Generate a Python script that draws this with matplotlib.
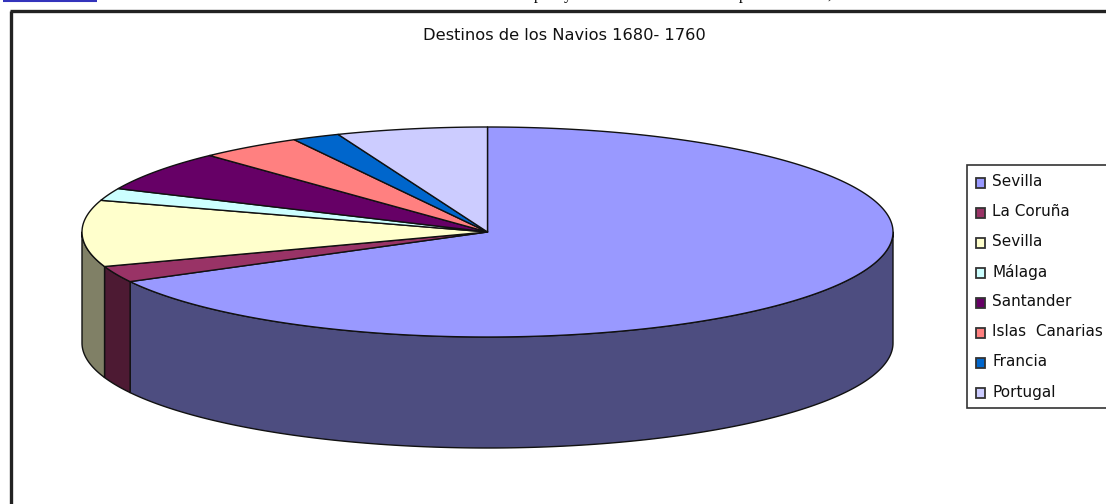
#!/usr/bin/env python3
import matplotlib
matplotlib.use("Agg")
import matplotlib.pyplot as plt
from matplotlib.patches import Polygon, Rectangle
import numpy as np

W, H = 1106, 504

labels = ["Sevilla", "La Coruña", "Sevilla", "Málaga", "Santander",
          "Islas  Canarias", "Francia", "Portugal"]
values = [67.1, 2.5, 10.2, 1.9, 6.2, 4.1, 1.9, 6.0]
colors = ["#9999FF", "#993366", "#FFFFCC", "#CCFFFF", "#660066",
          "#FF8080", "#0066CC", "#CCCCFF"]
title = "Destinos de los Navios 1680- 1760"

# bits of the page text above the chart, only the descenders are left in the crop
cut_glyphs = ["p", "y", "p", ","]
cut_glyph_x = [538, 568, 743, 829]

# pie geometry, in pixels of the picture
cx, cy = 487.5, 232
rx, ry = 405.5, 105
depth = 111


def rim(a0, a1):
    # angles clockwise from 12 o'clock, degrees
    n = max(2, int(abs(a1 - a0)) * 2 + 2)
    t = np.radians(np.linspace(a0, a1, n))
    return np.column_stack([cx + rx * np.sin(t), cy - ry * np.cos(t)])


def darker(c):
    rgb = np.array(matplotlib.colors.to_rgb(c))
    return tuple(rgb * 0.5)


plt.rcParams["font.family"] = ["DejaVu Sans"]
fig = plt.figure(figsize=(W / 100, H / 100), dpi=100)
ax = fig.add_axes([0, 0, 1, 1])
ax.set_xlim(0, W)
ax.set_ylim(H, 0)
ax.axis("off")

# chart frame, runs off the right and bottom of the crop
ax.plot([10.8, 10.8], [H + 5, 11.3], color="#222222", lw=2.4, solid_capstyle="butt")
ax.plot([9.6, W + 5], [11.3, 11.3], color="#222222", lw=2.4, solid_capstyle="butt")

# link underline left over at the top of the page
ax.plot([3, 97], [0.5, 0.5], color="#3333BB", lw=1.5, solid_capstyle="butt")
for g, x in zip(cut_glyphs, cut_glyph_x):
    ax.text(x, -1, g, ha="center", va="baseline", fontsize=11.5,
            family="Liberation Serif", color="black", clip_on=True)

edges = np.concatenate([[0], np.cumsum(values)]) / sum(values) * 360

# sides first, only the front half of the rim shows
for i, c in enumerate(colors):
    a0, a1 = max(edges[i], 90), min(edges[i + 1], 270)
    if a1 <= a0:
        continue
    top = rim(a0, a1)
    bottom = top[::-1] + [0, depth]
    ax.add_patch(Polygon(np.vstack([top, bottom]), closed=True, facecolor=darker(c),
                         edgecolor="#111111", lw=1.0, joinstyle="round"))

# top face
for i, c in enumerate(colors):
    pts = np.vstack([[cx, cy], rim(edges[i], edges[i + 1])])
    ax.add_patch(Polygon(pts, closed=True, facecolor=c, edgecolor="#111111",
                         lw=1.0, joinstyle="round"))

ax.text(564, 36, title, ha="center", va="center", fontsize=11.7, color="#111111")

# legend box, cut by the right edge as well
ax.add_patch(Rectangle((967, 165), W + 10 - 967, 243, facecolor="white",
                       edgecolor="#333333", lw=1.2))
for i, (lab, c) in enumerate(zip(labels, colors)):
    y = 182.5 + i * 30
    ax.add_patch(Rectangle((975.5, y - 4.5), 9.5, 9.5, facecolor=c, edgecolor="#333333", lw=1.3))
    ax.text(992, y - 0.5, lab, ha="left", va="center", fontsize=11, color="#111111")

fig.savefig("out.png", dpi=100)
